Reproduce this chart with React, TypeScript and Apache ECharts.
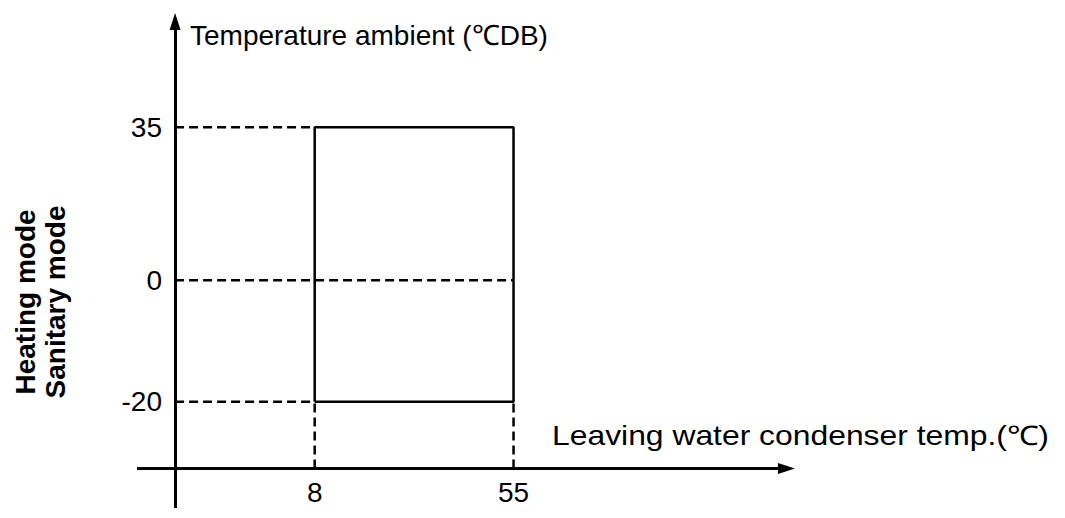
import { useEffect, useRef } from "react";
import * as echarts from "echarts";

// ---- data ----
const yTicks = [35, 0, -20]; // ambient temperature (°C DB)
const xTicks = [8, 55]; // leaving water condenser temperature (°C)
const waterRange = [8, 55];
const ambientRange = [-20, 35];
const ambientMid = 0;

const yAxisName = "Temperature ambient (℃DB)";
const xAxisName = "Leaving water condenser temp.(℃)";
const modeLabels = ["Heating mode", "Sanitary mode"];

// ---- layout (schematic axes) ----
const FONT = "'Liberation Sans', Arial, Helvetica, sans-serif";
const POS_COMPRESS = 0.72; // positive part of the y axis is drawn compressed (schematic)
const toY = (v: number) => (v > 0 ? v * POS_COMPRESS : v);

const X_MIN = -34;
const X_MAX = 122;
const Y_MIN = -37.5;
const Y_MAX = 45;
const AXIS_X = -25; // x position of the vertical axis
const AXIS_Y = -31; // y position of the horizontal axis
const X_ARROW_END = 119.5;
const Y_ARROW_END = 42.6;

export default function App() {
  const ref = useRef<HTMLDivElement>(null);

  useEffect(() => {
    if (!ref.current) return;
    const chart = echarts.init(ref.current, undefined, { renderer: "svg" });

    const [w0, w1] = waterRange;
    const [a0, a1] = ambientRange;

    const dashed = (pts: number[][]) => ({
      type: "line",
      data: pts,
      symbol: "none",
      silent: true,
      clip: false,
      lineStyle: { color: "#000", width: 2.5, type: [9, 5] },
    });

    const option: any = {
      animation: false,
      backgroundColor: "#fff",
      grid: {
        left: 137,
        top: 7,
        width: 660,
        height: 501,
        containLabel: false,
        outerBoundsMode: "none",
      },
      xAxis: {
        type: "value",
        min: X_MIN,
        max: X_MAX,
        position: "bottom",
        offset: -39,
        axisLine: { show: false },
        axisTick: { show: false },
        splitLine: { show: false },
        axisLabel: {
          customValues: xTicks,
          color: "#000",
          fontSize: 28,
          fontFamily: FONT,
          margin: 9,
        },
      },
      yAxis: {
        type: "value",
        min: Y_MIN,
        max: Y_MAX,
        position: "left",
        offset: -38,
        axisLine: { show: false },
        axisTick: { show: false },
        splitLine: { show: false },
        axisLabel: {
          customValues: yTicks.map(toY),
          color: "#000",
          fontSize: 28,
          fontFamily: FONT,
          margin: 13,
          formatter: (val: number) => {
            const t = yTicks.find((k) => Math.abs(toY(k) - val) < 1e-6);
            return t === undefined ? "" : String(t);
          },
        },
      },
      series: [
        {
          type: "line",
          data: [
            [w0, toY(a0)],
            [w0, toY(a1)],
            [w1, toY(a1)],
            [w1, toY(a0)],
            [w0, toY(a0)],
          ],
          symbol: "none",
          silent: true,
          clip: false,
          lineStyle: { color: "#000", width: 2.5 },
          markLine: {
            silent: true,
            symbol: ["none", "triangle"],
            symbolSize: [11, 17],
            label: { show: false },
            emphasis: { disabled: true },
            lineStyle: { color: "#000", width: 3, type: "solid" },
            data: [
              [{ coord: [X_MIN, AXIS_Y] }, { coord: [X_ARROW_END, AXIS_Y] }],
              [{ coord: [AXIS_X, Y_MIN] }, { coord: [AXIS_X, Y_ARROW_END] }],
            ],
          },
        },
        dashed([
          [AXIS_X, toY(a1)],
          [w0, toY(a1)],
        ]),
        dashed([
          [AXIS_X, toY(ambientMid)],
          [w1, toY(ambientMid)],
        ]),
        dashed([
          [AXIS_X, toY(a0)],
          [w0, toY(a0)],
        ]),
        dashed([
          [w0, AXIS_Y],
          [w0, toY(a0)],
        ]),
        dashed([
          [w1, AXIS_Y],
          [w1, toY(a0)],
        ]),
      ],
      graphic: [
        {
          type: "text",
          x: 190,
          y: 35,
          style: {
            text: yAxisName,
            fill: "#000",
            font: `28px ${FONT}`,
            align: "left",
            verticalAlign: "middle",
          },
        },
        {
          type: "text",
          x: 552,
          y: 435,
          scaleX: 1.18,
          style: {
            text: xAxisName,
            fill: "#000",
            font: `27px ${FONT}`,
            align: "left",
            verticalAlign: "middle",
          },
        },
        {
          type: "text",
          x: 40,
          y: 302,
          rotation: Math.PI / 2,
          style: {
            text: modeLabels.join("\n"),
            fill: "#000",
            font: `bold 28px ${FONT}`,
            align: "center",
            verticalAlign: "middle",
            lineHeight: 30,
          },
        },
      ],
    };

    chart.setOption(option);
    return () => chart.dispose();
  }, []);

  return (
    <div
      ref={ref}
      style={{ position: "fixed", left: 0, top: 0, width: 1065, height: 518 }}
    />
  );
}
